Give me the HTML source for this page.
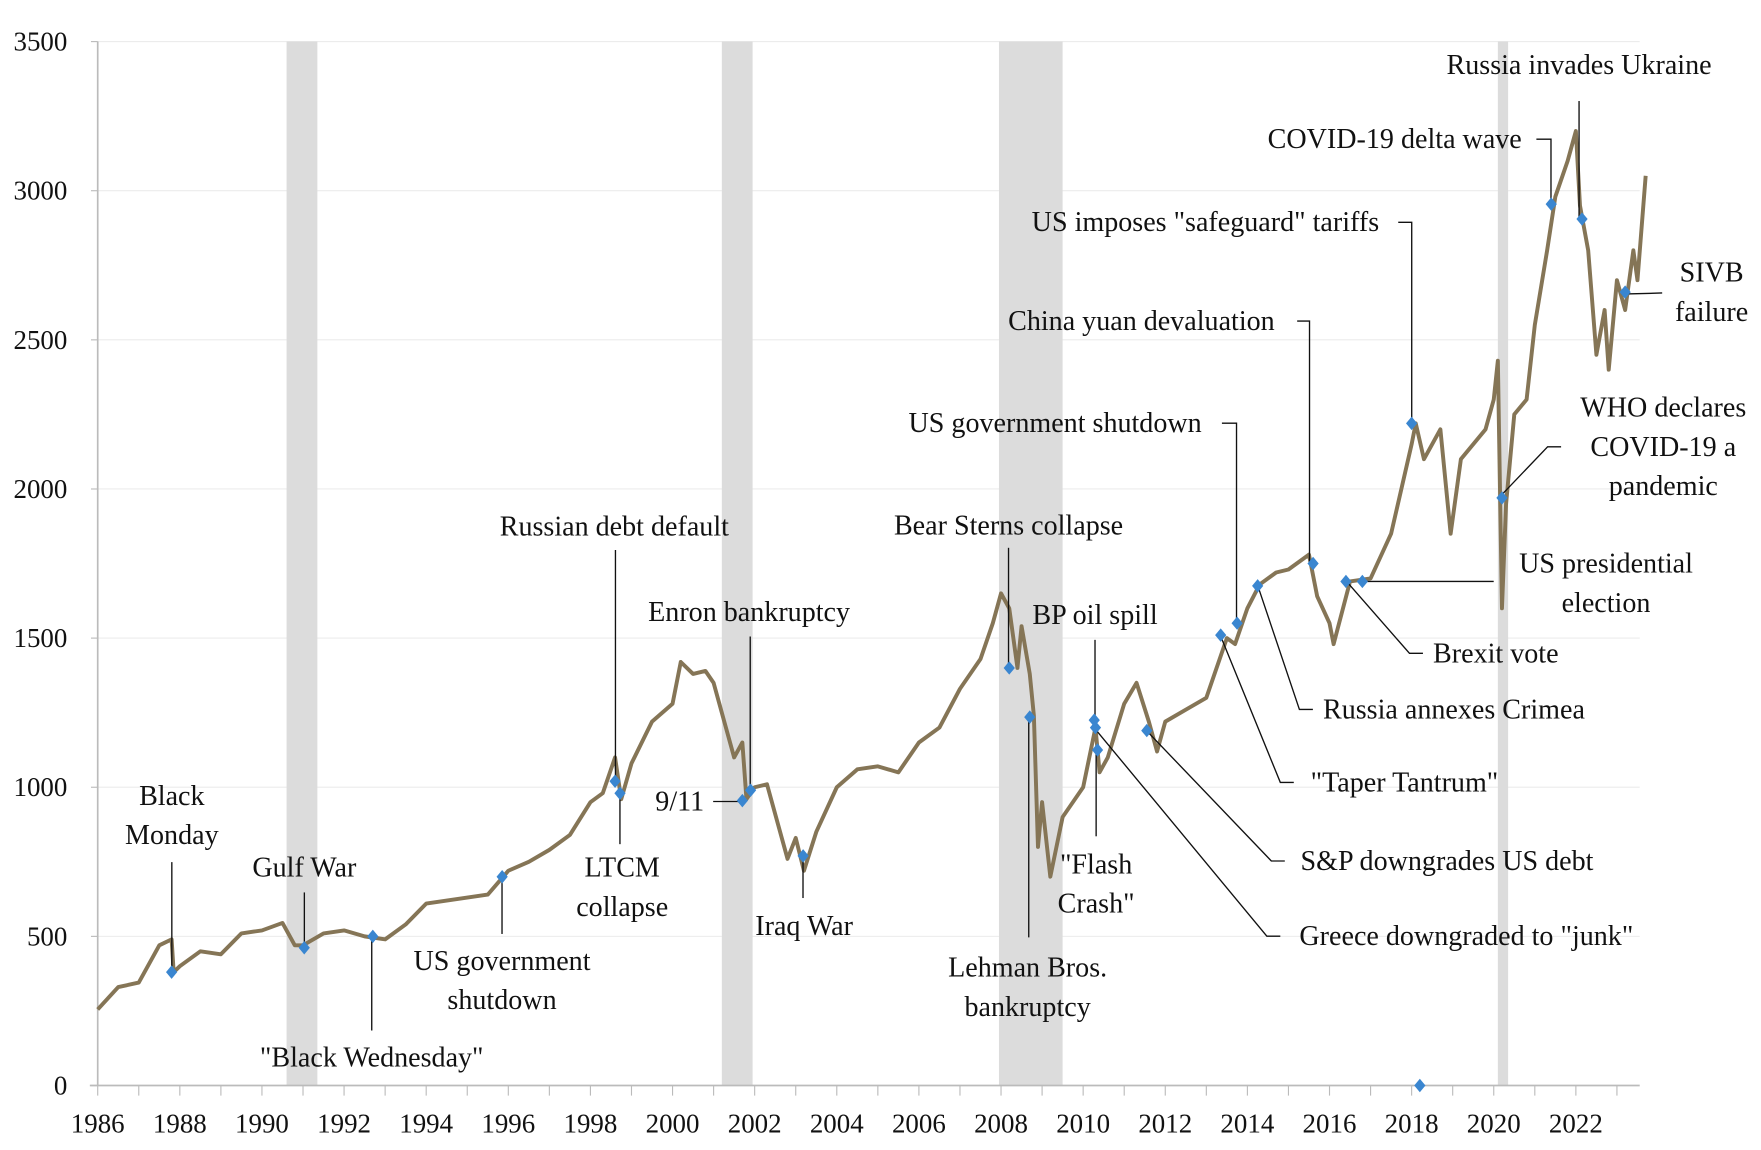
<!DOCTYPE html>
<html><head><meta charset="utf-8"><style>
html,body{margin:0;padding:0;background:#fff;}
svg text{font-family:"Liberation Serif",serif;font-size:25px;fill:#111;}
svg text.tick{font-size:24px;}
</style></head><body>
<svg id="chart" width="1761" height="1145" viewBox="0 0 1568 1020" preserveAspectRatio="none" xmlns="http://www.w3.org/2000/svg">
<g id="grid"></g><g id="rec"></g><g id="axes"></g><g id="line"></g><g id="ann"></g><g id="marks"></g>
</svg>
<script>
const years=[1986,1986.5,1987,1987.5,1987.8,1987.85,1988,1988.5,1989,1989.5,1990,1990.5,1990.8,1991,1991.5,1992,1992.5,1993,1993.5,1994,1994.5,1995,1995.5,1996,1996.5,1997,1997.5,1998,1998.3,1998.6,1998.75,1999,1999.5,2000,2000.2,2000.5,2000.8,2001,2001.3,2001.5,2001.7,2001.8,2002,2002.3,2002.6,2002.8,2003,2003.2,2003.5,2004,2004.5,2005,2005.5,2006,2006.5,2007,2007.5,2007.8,2008,2008.2,2008.4,2008.5,2008.7,2008.8,2008.9,2009,2009.2,2009.5,2010,2010.3,2010.4,2010.6,2011,2011.3,2011.6,2011.8,2012,2012.5,2013,2013.5,2013.7,2014,2014.3,2014.7,2015,2015.5,2015.7,2016,2016.1,2016.5,2017,2017.5,2018,2018.1,2018.3,2018.7,2018.95,2019.2,2019.5,2019.8,2020,2020.1,2020.2,2020.3,2020.5,2020.8,2021,2021.3,2021.5,2021.8,2022,2022.1,2022.3,2022.5,2022.7,2022.8,2023,2023.2,2023.4,2023.5,2023.7];
const values=[255,330,345,470,490,380,400,450,440,510,520,545,470,470,510,520,500,490,540,610,620,630,640,720,750,790,840,950,980,1100,960,1080,1220,1280,1420,1380,1390,1350,1200,1100,1150,960,1000,1010,860,760,830,720,850,1000,1060,1070,1050,1150,1200,1330,1430,1550,1650,1600,1400,1540,1380,1240,800,950,700,900,1000,1200,1050,1100,1280,1350,1220,1120,1220,1260,1300,1500,1480,1600,1680,1720,1730,1780,1640,1550,1480,1690,1700,1850,2150,2220,2100,2200,1850,2100,2150,2200,2300,2430,1600,1950,2250,2300,2550,2800,2980,3100,3200,2950,2800,2450,2600,2400,2700,2600,2800,2700,3050];
const yTicks=[0,500,1000,1500,2000,2500,3000,3500];
const xLabels=[1986,1988,1990,1992,1994,1996,1998,2000,2002,2004,2006,2008,2010,2012,2014,2016,2018,2020,2022];
const recStart=[1990.6,2001.2,2007.95,2020.1];
const recEnd=[1991.35,2001.95,2009.5,2020.35];
const evYear=[1987.8,1991.03,1992.7,1995.85,1998.6,1998.72,2001.7,2001.9,2003.18,2008.2,2008.7,2010.27,2010.35,2010.3,2011.55,2013.35,2013.75,2014.25,2015.6,2016.4,2016.8,2018.0,2018.2,2020.2,2021.4,2022.15,2023.2];
const evValue=[380,462,500,700,1020,980,955,990,770,1400,1235,1225,1125,1200,1190,1510,1550,1675,1750,1690,1690,2220,0,1970,2955,2905,2660];
const NS="http://www.w3.org/2000/svg";
const X=y=>87+(y-1986)*36.56, Y=v=>967-v*0.2657;
function mk(t,a,p){const e=document.createElementNS(NS,t);for(const k in a)e.setAttribute(k,a[k]);(p||document.getElementById('chart')).appendChild(e);return e;}
const g=id=>document.getElementById(id);
yTicks.forEach(v=>{
 if(v>0){const l=mk('line',{x1:87,x2:1460,y1:Y(v),y2:Y(v),stroke:'#ececec','stroke-width':1},g('grid'));
 
 }
 const t=mk('text',{x:60,y:Y(v)+8,'text-anchor':'end','class':'tick'},g('axes'));t.textContent=v;
 
 
 mk('line',{x1:81,x2:87,y1:Y(v),y2:Y(v),stroke:'#bbb'},g('axes'));
});
recStart.forEach((s,i)=>{const r=mk('rect',{x:X(s),y:37,width:X(recEnd[i])-X(s),height:930,fill:'#dcdcdc'},g('rec'));
 
 });
mk('line',{x1:87,x2:87,y1:37,y2:967,stroke:'#bbb','stroke-width':1.5},g('axes'));
mk('line',{x1:80,x2:1460,y1:967,y2:967,stroke:'#bbb','stroke-width':1.5},g('axes'));
for(let y=1986;y<=2023;y++)mk('line',{x1:X(y),x2:X(y),y1:967,y2:976,stroke:'#bbb'},g('axes'));
xLabels.forEach(y=>{const t=mk('text',{x:X(y),y:1009,'text-anchor':'middle','class':'tick'},g('axes'));t.textContent=y;
 
 });
const pl=mk('polyline',{points:years.map((y,i)=>X(y)+','+Y(values[i])).join(' '),fill:'none',stroke:'#857556','stroke-width':3.5,'stroke-linejoin':'round'},g('line'));


const ann=[
[["Black","Monday"],153,717,'middle',[[153,768],[153,866]]],
[["Gulf War"],271,781,'middle',[[271,795],[271,844]]],
[["\"Black Wednesday\""],331,950,'middle',[[331,833],[331,918]]],
[["US government","shutdown"],447,864,'middle',[[447,782],[447,832]]],
[["Russian debt default"],547,477,'middle',[[548,490],[548,695]]],
[["LTCM","collapse"],554,781,'middle',[[552,705],[552,752]]],
[["9/11"],627,722,'end',[[635,714],[661,714]]],
[["Enron bankruptcy"],667,553,'middle',[[668,567],[668,703]]],
[["Iraq War"],716,833,'middle',[[715,762],[715,800]]],
[["Bear Sterns collapse"],898,476,'middle',[[898,488],[898,594]]],
[["Lehman Bros.","bankruptcy"],915,870,'middle',[[916,638],[916,835]]],
[["BP oil spill"],975,556,'middle',[[975,570],[975,640]]],
[["\"Flash","Crash\""],976,778,'middle',[[976,668],[976,745]]],
[["Greece  downgraded to \"junk\""],1157,842,'start',[[974,648],[1128,834],[1140,834]]],
[["S&P downgrades US debt"],1158,775,'start',[[1021,651],[1132,767],[1144,767]]],
[["\"Taper Tantrum\""],1167,705,'start',[[1087,567],[1140,697],[1152,697]]],
[["Russia annexes Crimea"],1178,640,'start',[[1120,522],[1157,632],[1169,632]]],
[["Brexit vote"],1276,590,'start',[[1199,518],[1255,582],[1267,582]]],
[["US presidential","election"],1430,510,'middle',[[1213,518],[1330,518]]],
[["US government shutdown"],1070,385,'end',[[1088,377],[1101,377],[1101,555]]],
[["China yuan devaluation"],1135,294,'end',[[1155,286],[1166,286],[1166,502]]],
[["US imposes \"safeguard\" tariffs"],1228,206,'end',[[1245,198],[1257,198],[1257,377]]],
[["WHO declares","COVID-19 a","pandemic"],1481,371,'middle',[[1335,443],[1378,398],[1390,398]]],
[["COVID-19 delta wave"],1355,132,'end',[[1368,124],[1381,124],[1381,183]]],
[["Russia invades Ukraine"],1406,66,'middle',[[1406,90],[1406,195]]],
[["SIVB","failure"],1524,251,'middle',[[1444,262],[1480,261]]]
];
ann.forEach(a=>{
 const pth=mk('polyline',{points:a[4].map(p=>p.join(',')).join(' '),fill:'none',stroke:'#111','stroke-width':1.2},g('ann'));
 
 
 const t=mk('text',{x:a[1],y:a[2],'text-anchor':a[3]},g('ann'));
 a[0].forEach((s,i)=>{const ts=mk('tspan',{x:a[1],dy:i?35:0},t);ts.textContent=s;});
 
 
});
evYear.forEach((y,i)=>{const cx=X(y),cy=Y(evValue[i]);
 const d=mk('polygon',{points:`${cx},${cy-6} ${cx+5},${cy} ${cx},${cy+6} ${cx-5},${cy}`,fill:'#3a86d0'},g('marks'));
 
 });
</script>
</body></html>
